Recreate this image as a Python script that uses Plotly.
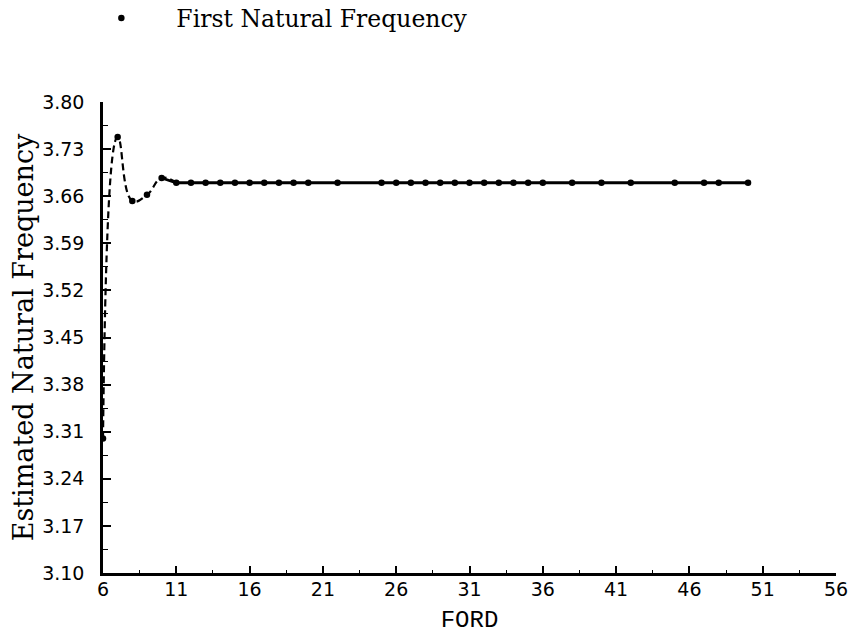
import plotly.graph_objects as go

# Filter order (FORD) and the estimated first natural frequency at each order
ford = [6, 7, 8, 9, 10, 11, 12, 13, 14, 15, 16, 17, 18, 19, 20, 22,
        25, 26, 27, 28, 29, 30, 31, 32, 33, 34, 35, 36, 38, 40, 42,
        45, 47, 48, 50]
freq = [3.30, 3.748, 3.653, 3.662, 3.687, 3.680, 3.680, 3.680, 3.680,
        3.680, 3.680, 3.680, 3.680, 3.680, 3.680, 3.680, 3.680, 3.680,
        3.680, 3.680, 3.680, 3.680, 3.680, 3.680, 3.680, 3.680, 3.680,
        3.680, 3.680, 3.680, 3.680, 3.680, 3.680, 3.680, 3.680]

x_ticks = [6, 11, 16, 21, 26, 31, 36, 41, 46, 51, 56]
y_ticks = [3.10, 3.17, 3.24, 3.31, 3.38, 3.45, 3.52, 3.59, 3.66, 3.73, 3.80]

series_name = "First Natural Frequency"
n_dash = 5  # early, oscillating orders are drawn dashed

fig = go.Figure()

# dashed smoothed curve through the first orders
fig.add_trace(go.Scatter(
    x=ford[:n_dash + 1], y=freq[:n_dash + 1], mode="lines",
    line=dict(color="black", width=2.2, dash="7px,4px", shape="spline", smoothing=1.3),
    showlegend=False, hoverinfo="skip"))

# solid curve for the converged orders
fig.add_trace(go.Scatter(
    x=ford[n_dash - 1:], y=freq[n_dash - 1:], mode="lines",
    line=dict(color="black", width=2.8),
    showlegend=False, hoverinfo="skip"))

# data points
fig.add_trace(go.Scatter(
    x=ford, y=freq, mode="markers", name=series_name,
    marker=dict(color="black", size=6.5, symbol="circle"),
    showlegend=True))

tick_font = dict(family="DejaVu Sans", size=19, color="black")

fig.update_layout(
    width=852, height=634,
    margin=dict(l=103, r=16, t=102, b=61, autoexpand=False),
    paper_bgcolor="white", plot_bgcolor="white",
    showlegend=True,
    legend=dict(x=-0.05, y=1.178, xanchor="left", yanchor="middle",
                font=dict(family="DejaVu Serif", size=23.5, color="black"),
                itemwidth=100, bgcolor="rgba(0,0,0,0)"),
    xaxis=dict(
        range=[6, 56], tickmode="array", tickvals=x_ticks,
        ticktext=[str(v) for v in x_ticks],
        showgrid=False, zeroline=False,
        showline=True, linecolor="black", linewidth=2.5,
        ticks="inside", ticklen=7, tickwidth=1.5, tickcolor="black",
        minor=dict(dtick=2.5, tick0=6, ticks="inside", ticklen=3,
                   tickwidth=1.2, tickcolor="black"),
        tickfont=tick_font, ticklabelstandoff=-3,
        title=dict(text="FORD", font=dict(family="Liberation Mono", size=24,
                                          color="black"), standoff=12),
    ),
    yaxis=dict(
        range=[3.10, 3.80], tickmode="array", tickvals=y_ticks,
        ticktext=[f"{v:.2f}" for v in y_ticks],
        showgrid=False, zeroline=False,
        showline=True, linecolor="black", linewidth=2.5,
        ticks="inside", ticklen=8, tickwidth=1.5, tickcolor="black",
        minor=dict(dtick=0.035, tick0=3.10, ticks="inside", ticklen=5,
                   tickwidth=1.2, tickcolor="black"),
        tickfont=tick_font, ticklabelstandoff=12,
        title=dict(text="Estimated Natural Frequency",
                   font=dict(family="DejaVu Serif", size=27, color="black"),
                   standoff=1),
    ),
)

fig.write_html("out.html")
